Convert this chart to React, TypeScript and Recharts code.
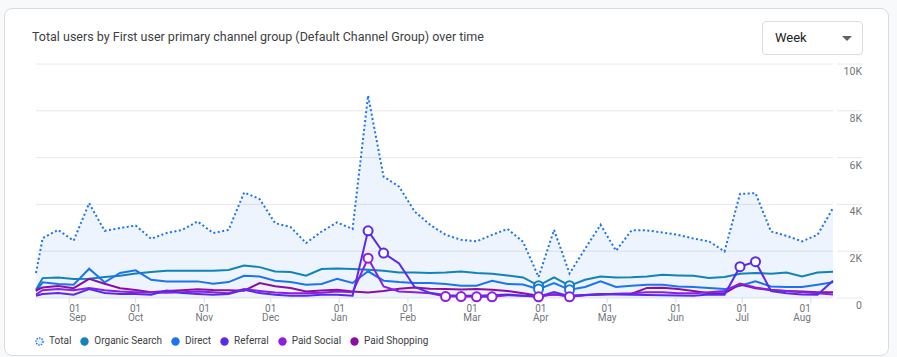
import React from 'react';
import { ComposedChart, Area, Line, XAxis, YAxis, CartesianGrid } from 'recharts';

// week points (first one is the partial week the date range starts on)
const weeks = [
  '2023-08-17', '2023-08-20', '2023-08-27', '2023-09-03', '2023-09-10', '2023-09-17', '2023-09-24',
  '2023-10-01', '2023-10-08', '2023-10-15', '2023-10-22', '2023-10-29', '2023-11-05', '2023-11-12',
  '2023-11-19', '2023-11-26', '2023-12-03', '2023-12-10', '2023-12-17', '2023-12-24', '2023-12-31',
  '2024-01-07', '2024-01-14', '2024-01-21', '2024-01-28', '2024-02-04', '2024-02-11', '2024-02-18',
  '2024-02-25', '2024-03-03', '2024-03-10', '2024-03-17', '2024-03-24', '2024-03-31', '2024-04-07',
  '2024-04-14', '2024-04-21', '2024-04-28', '2024-05-05', '2024-05-12', '2024-05-19', '2024-05-26',
  '2024-06-02', '2024-06-09', '2024-06-16', '2024-06-23', '2024-06-30', '2024-07-07', '2024-07-14',
  '2024-07-21', '2024-07-28', '2024-08-04', '2024-08-11',
];

const totalUsers = [
  1070, 2560, 2910, 2450, 4050, 2870, 2990, 3100, 2530, 2780, 2910, 3270, 2780, 2910, 4510, 4230,
  3200, 3030, 2350, 2840, 3230, 2950, 8650, 5190, 4760, 3700, 3130, 2700, 2490, 2420, 2700, 2950,
  2400, 900, 2910, 1050, 2100, 3130, 2020, 2890, 2890, 2800, 2700, 2540, 2420, 1990, 4450, 4480,
  2840, 2660, 2420, 2700, 3840,
];
const organicSearch = [
  350, 850, 880, 810, 820, 900, 950, 1050, 1110, 1165, 1165, 1165, 1165, 1195, 1390, 1320,
  1135, 1110, 950, 1240, 1260, 1240, 1210, 1165, 1090, 1090, 1070, 1090, 1135, 1070, 1040, 965,
  880, 525, 880, 525, 780, 920, 880, 890, 920, 990, 965, 950, 850, 900, 1040, 1070,
  1040, 1090, 920, 1090, 1120,
];
const direct = [
  280, 670, 600, 570, 1250, 670, 1070, 1180, 780, 710, 710, 710, 610, 680, 950, 920,
  740, 680, 570, 600, 820, 640, 1140, 740, 680, 640, 640, 600, 525, 525, 740, 600,
  580, 380, 640, 350, 470, 710, 470, 525, 570, 570, 495, 470, 430, 380, 525, 710,
  495, 470, 470, 570, 670,
];
const referral = [
  100, 170, 210, 140, 380, 210, 170, 170, 140, 320, 210, 170, 140, 170, 350, 210,
  140, 100, 100, 140, 140, 100, 2870, 1920, 1480, 470, 220, 120, 100, 100, 120, 150,
  100, 60, 250, 80, 130, 170, 150, 140, 130, 120, 110, 100, 150, 140, 1340, 1550,
  300, 200, 150, 140, 740,
];
const paidSocial = [
  150, 330, 380, 330, 430, 330, 280, 250, 230, 220, 250, 280, 250, 200, 380, 300,
  230, 200, 200, 220, 280, 250, 1700, 490, 280, 250, 200, 60, 60, 50, 50, 120,
  100, 50, 160, 50, 120, 150, 180, 200, 250, 250, 200, 200, 250, 300, 620, 450,
  350, 300, 250, 200, 150,
];
const paidShopping = [
  330, 450, 510, 420, 820, 610, 420, 340, 250, 300, 330, 370, 340, 330, 310, 640,
  500, 430, 280, 320, 350, 280, 230, 300, 400, 450, 400, 380, 360, 380, 350, 300,
  200, 100, 150, 100, 130, 150, 170, 180, 430, 440, 380, 300, 200, 200, 580, 420,
  330, 300, 280, 250, 250,
];

// hollow markers on flagged weeks
const organicMarks = [33, 35];
const directMarks = [33, 35];
const referralMarks = [22, 23, 46, 47];
const paidSocialMarks = [22, 27, 28, 29, 30, 33, 35];

const monthTicks = [
  '2023-09-01', '2023-10-01', '2023-11-01', '2023-12-01', '2024-01-01', '2024-02-01',
  '2024-03-01', '2024-04-01', '2024-05-01', '2024-06-01', '2024-07-01', '2024-08-01',
];
const monthNames = ['Sep', 'Oct', 'Nov', 'Dec', 'Jan', 'Feb', 'Mar', 'Apr', 'May', 'Jun', 'Jul', 'Aug'];
const yTicks = [0, 2000, 4000, 6000, 8000, 10000];

const colors = {
  total: '#1a73e8',
  organic: '#1283b6',
  direct: '#1b74ee',
  referral: '#5b2ae8',
  paidSocial: '#8c1fe0',
  paidShopping: '#8b0ea3',
};

const legendItems = [
  { name: 'Total', color: colors.total, dotted: true },
  { name: 'Organic Search', color: colors.organic },
  { name: 'Direct', color: colors.direct },
  { name: 'Referral', color: colors.referral },
  { name: 'Paid Social', color: colors.paidSocial },
  { name: 'Paid Shopping', color: colors.paidShopping },
];

const chartData = weeks.map((w, i) => ({
  t: Date.parse(w),
  total: totalUsers[i],
  organic: organicSearch[i],
  direct: direct[i],
  referral: referral[i],
  paidSocial: paidSocial[i],
  paidShopping: paidShopping[i],
}));

const font = 'Roboto, "Noto Sans", sans-serif';

const markDot = (marks: number[], color: string) => (props: any) => {
  const { cx, cy, index } = props;
  if (!marks.includes(index)) return <g key={`d${index}`} />;
  return <circle key={`d${index}`} cx={cx} cy={cy} r={4.5} fill="#fff" stroke={color} strokeWidth={2} />;
};

const XTick = (props: any) => {
  const { x, y, index } = props;
  const anchor = index === 0 ? 'start' : index === monthTicks.length - 1 ? 'end' : 'middle';
  return (
    <text x={x} y={y + 8.5} textAnchor={anchor} fontSize={10} fill="#70757a" fontFamily={font}>
      <tspan x={x}>01</tspan>
      <tspan x={x} dy={9.5}>{monthNames[index]}</tspan>
    </text>
  );
};

const YTick = (props: any) => {
  const { x, y, payload } = props;
  const v = payload.value;
  return (
    <g>
      <line x1={x + 4} x2={x + 29} y1={y} y2={y} stroke="#e6e8eb" />
      <text x={x + 29} y={y + 11} textAnchor="end" fontSize={10.5} fill="#70757a" fontFamily={font}>
        {v === 0 ? '0' : `${v / 1000}K`}
      </text>
    </g>
  );
};

export default function App() {
  return (
    <div style={{ position: 'fixed', left: 0, top: 0, width: 897, height: 357, background: '#f8f9fa', fontFamily: font }}>
      <div
        style={{
          position: 'absolute', left: 4, top: 8, width: 885, height: 348, boxSizing: 'border-box',
          background: '#fff', border: '1px solid #dadce0', borderRadius: 8,
        }}
      />
      <div style={{ position: 'absolute', left: 32, top: 29, fontSize: 12.5, lineHeight: '16px', color: '#3c4043' }}>
        Total users by First user primary channel group (Default Channel Group) over time
      </div>
      <div
        style={{
          position: 'absolute', left: 762, top: 21, width: 101, height: 34, boxSizing: 'border-box',
          border: '1px solid #dadce0', borderRadius: 4, fontSize: 13, color: '#202124',
        }}
      >
        <span style={{ position: 'absolute', left: 12, top: 8, lineHeight: '16px' }}>Week</span>
        <svg style={{ position: 'absolute', left: 79, top: 14 }} width={10} height={5}>
          <path d="M0 0 L10 0 L5 5 Z" fill="#5f6368" />
        </svg>
      </div>

      <div style={{ position: 'absolute', left: 0, top: 0 }}>
        <ComposedChart width={897} height={357} data={chartData} margin={{ top: 64, right: 24, bottom: 29, left: 36 }}>
          <CartesianGrid vertical={false} stroke="#e6e8eb" />
          <XAxis
            dataKey="t"
            type="number"
            scale="time"
            domain={[Date.parse(weeks[0]), Date.parse(weeks[weeks.length - 1])]}
            ticks={monthTicks.map((m) => Date.parse(m))}
            tick={<XTick />}
            tickLine={{ stroke: '#dadce0' }}
            tickSize={5}
            tickMargin={0}
            axisLine={false}
            height={30}
            interval={0}
          />
          <YAxis
            orientation="right"
            domain={[0, 10000]}
            ticks={yTicks}
            tick={<YTick />}
            tickLine={false}
            tickSize={0}
            tickMargin={0}
            axisLine={false}
            width={40}
            interval={0}
          />
          <Area
            dataKey="total"
            type="linear"
            stroke={colors.total}
            strokeWidth={2}
            strokeDasharray="2 2.5"
            fill={colors.total}
            fillOpacity={0.08}
            dot={false}
            activeDot={false}
            isAnimationActive={false}
          />
          <Line dataKey="organic" type="linear" stroke={colors.organic} strokeWidth={2} dot={markDot(organicMarks, colors.organic)} activeDot={false} isAnimationActive={false} />
          <Line dataKey="direct" type="linear" stroke={colors.direct} strokeWidth={2} dot={markDot(directMarks, colors.direct)} activeDot={false} isAnimationActive={false} />
          <Line dataKey="paidShopping" type="linear" stroke={colors.paidShopping} strokeWidth={2} dot={false} activeDot={false} isAnimationActive={false} />
          <Line dataKey="paidSocial" type="linear" stroke={colors.paidSocial} strokeWidth={2} dot={markDot(paidSocialMarks, colors.paidSocial)} activeDot={false} isAnimationActive={false} />
          <Line dataKey="referral" type="linear" stroke={colors.referral} strokeWidth={2} dot={markDot(referralMarks, colors.referral)} activeDot={false} isAnimationActive={false} />
        </ComposedChart>
      </div>

      <div style={{ position: 'absolute', left: 35, top: 335, display: 'flex', alignItems: 'center', fontSize: 10, color: '#3c4043', lineHeight: '12px' }}>
        {legendItems.map((item) => (
          <div key={item.name} style={{ display: 'flex', alignItems: 'center', marginRight: 9 }}>
            <svg width={9} height={9} style={{ marginRight: 5 }}>
              {item.dotted ? (
                <circle cx={4.5} cy={4.5} r={3.5} fill="#e8f0fe" stroke={item.color} strokeWidth={1.5} strokeDasharray="1.4 1.2" />
              ) : (
                <circle cx={4.5} cy={4.5} r={4.2} fill={item.color} />
              )}
            </svg>
            <span>{item.name}</span>
          </div>
        ))}
      </div>
    </div>
  );
}
